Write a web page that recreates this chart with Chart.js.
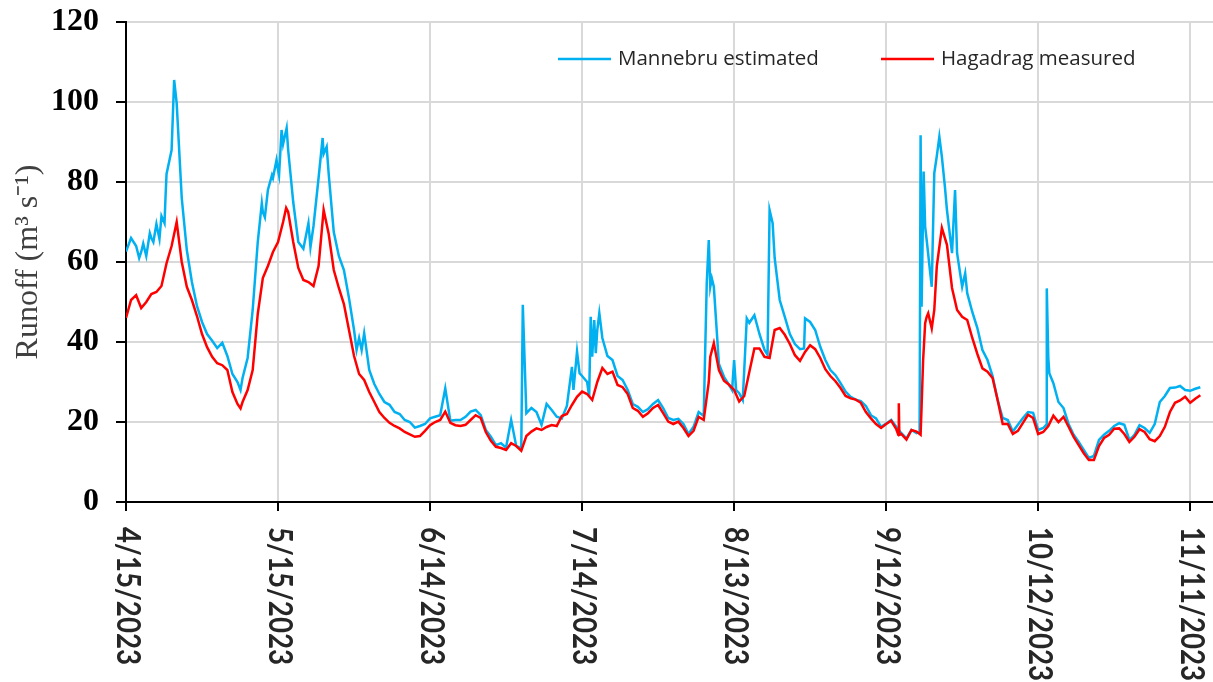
<!DOCTYPE html>
<html>
<head>
<meta charset="utf-8">
<script src="https://cdn.jsdelivr.net/npm/chart.js@4.4.1/dist/chart.umd.min.js"></script>
<style>
html,body{margin:0;padding:0;background:#fff;}
#wrap{width:1213px;height:682px;position:relative;}
</style>
</head>
<body>
<div id="wrap"><canvas id="c" width="1213" height="682"></canvas></div>
<script>
// ---- data (day 0 = 4/15/2023) ----
const seriesNames = ['Mannebru estimated', 'Hagadrag measured'];
const tickDays = [0, 30, 60, 90, 120, 150, 180, 210];
const tickLabels = ['4/15/2023', '5/15/2023', '6/14/2023', '7/14/2023', '8/13/2023', '9/12/2023', '10/12/2023', '11/11/2023'];
const yTickValues = [0, 20, 40, 60, 80, 100, 120];

const mannebruDaily = [
  62.6, 66, 64, 62.5, 61.5, 66, 69.5, 71.5, 82, 88,
  99.7, 76, 63, 55, 49, 45, 42, 40.3, 38.5, 39.8,
  36.5, 32, 30, 31, 36, 48, 65, 72.5, 78, 81,
  83, 89.5, 88, 75, 65, 63.3, 69.7, 69, 81, 87,
  82, 67.5, 61.5, 58, 51, 43, 41, 42.2, 33, 29.5,
  27, 25, 24.3, 22.5, 22, 20.5, 20, 18.6, 19, 19.5,
  20.9, 21.3, 21.7, 28.4, 20.3, 20.5, 20.5, 21.3, 22.6, 23,
  21.7, 18, 16.3, 14.2, 14.7, 13.6, 20.5, 14, 13.4, 22.2,
  23.5, 22.5, 19.3, 24.5, 23, 21.3, 20.9, 24, 33.8, 37.6,
  31.5, 30, 36.3, 43, 41, 36.5, 35.5, 31.5, 30.5, 28,
  24.5, 23.8, 22.5, 23.2, 24.5, 25.5, 23.5, 21, 20.5, 20.8,
  19.5, 17, 18.8, 22.5, 21.5, 65.5, 53.8, 34.5, 31.3, 29.3,
  35.5, 27.2, 33, 44.8, 46.7, 42, 38, 73, 61, 50.5,
  46.3, 42, 39.5, 38.2, 45.9, 45, 43, 38.8, 35.5, 33,
  31.7, 29.7, 27.6, 26.3, 25.6, 25.2, 24, 21.7, 20.9, 18.8,
  19.6, 20.5, 18.8, 17.2, 15.9, 18, 17.2, 48.8, 65.5, 53.8,
  86.5, 86.3, 73, 62.2, 62.2, 53.8, 52.2, 47.5, 43.5, 38,
  35.5, 31.5, 25.5, 21, 20.5, 17.6, 19.3, 21, 22.5, 22.3,
  18, 18.5, 36, 29.7, 25, 23.5, 19.5, 16.8, 15, 13,
  11, 11.5, 15.5, 16.8, 17.8, 19, 19.7, 19.3, 15.5, 16.8,
  19.2, 18.5, 17.3, 19.5, 25, 26.5, 28.5, 28.6, 29, 28,
  27.8, 28.3, 28.7
];
// sub-daily readings (sharp peaks between daily values)
const mannebruExtraDays = [2.6, 3.4, 4.7, 5.4, 6.6, 7.6, 7.8, 9.5, 22.6, 26.8, 27.4, 28.8, 29.7, 30.2, 30.7, 31.7, 36.4, 38.8, 39.6, 45.5, 46.5,
  78.3, 88.3, 89.5, 91.4, 91.7, 92.4, 92.7, 93.4, 114.6, 115.3, 115.6, 119.6, 120.4, 121.7, 122.5, 126.6, 127.6, 133.8,
  156.6, 156.8, 157.4, 157.7, 158.7, 159.5, 160.5, 161.6, 163.6, 164.5, 165.6, 181.6, 181.7, 182.2];
const mannebruExtraValues = [61, 64.6, 67.2, 65, 65.8, 69.7, 76.3, 105.5, 28, 74.7, 71.2, 81.7, 85.5, 81.7, 93, 93.5, 63.7, 91, 88.8, 38, 38,
  49.3, 28, 32.2, 26.3, 46.3, 45.5, 37.2, 47.2, 54.7, 53.8, 55.9, 28, 28, 25.5, 45.9, 36.8, 69.7, 38.4,
  17.5, 91.7, 82.6, 68.8, 57.2, 82.2, 91.3, 78.8, 78, 58, 57.2, 19.3, 53.4, 32.2];

const hagadragDaily = [
  46, 50.5, 51.7, 48.5, 50, 52, 52.5, 54, 59.7, 64,
  70, 60, 53.8, 50.5, 46.5, 42, 38.7, 36.3, 34.7, 34.2,
  33, 27.5, 24.5, 25, 28, 33, 47, 56, 59, 62.5,
  65, 70, 72.5, 65, 58.5, 55.5, 55, 54, 59, 73,
  67, 58, 53.5, 49.5, 43, 36.5, 32, 30.5, 27.5, 25,
  22.5, 21, 19.8, 19, 18.4, 17.5, 16.9, 16.3, 16.5, 17.8,
  19.2, 20, 20.5, 22.6, 19.8, 19.2, 19, 19.3, 20.5, 21.7,
  21, 17.5, 15.3, 13.8, 13.5, 13, 14.7, 14, 12.8, 16.5,
  17.6, 18.4, 18, 18.75, 19.25, 19, 21.5, 22, 24.25, 26.3,
  27.6, 27, 25.5, 30, 33.5, 32, 32.6, 29.25, 28.7, 27,
  23.5, 22.8, 21.3, 22.2, 23.5, 24.25, 22.2, 20.1, 19.5, 20.1,
  18.5, 16.5, 17.8, 21.3, 20.5, 30, 39.7, 33, 30.3, 29.3,
  28, 25.1, 26.5, 32.5, 38.4, 38.4, 36.3, 36, 43, 43.5,
  41.8, 39.5, 36.7, 35.3, 37.5, 39.2, 38.2, 36, 33.2, 31.5,
  30.2, 28.5, 26.5, 25.9, 25.6, 24.8, 22.5, 20.9, 19.5, 18.5,
  19.5, 20.3, 18.2, 17, 15.6, 18, 17.6, 24, 46.3, 43.4,
  59, 68.5, 64.3, 53.5, 48, 46.3, 45.5, 41, 37, 33.4,
  32.6, 31, 25.5, 19.5, 19.5, 17, 17.8, 19.8, 21.8, 21,
  17, 17.5, 19, 21.6, 20, 21.3, 18.8, 16.3, 14.2, 12.2,
  10.5, 10.5, 14, 16, 16.8, 18.3, 18.4, 17, 15, 16.3,
  18.2, 17.5, 15.7, 15.2, 16.5, 18.8, 22.5, 24.8, 25.4, 26.3,
  24.8, 25.8, 26.7
];
const hagadragExtraDays = [22.6, 31.6, 115.3, 152.4, 152.5, 152.6, 156.8, 157.3, 157.7, 158.3, 159.5];
const hagadragExtraValues = [23.4, 73.5, 36.3, 16.8, 24.7, 16.8, 16.8, 35.5, 44.7, 47.2, 48];

function buildSeries(daily, exDays, exVals) {
  const pts = daily.map((v, i) => ({ x: i, y: v }));
  exDays.forEach((d, k) => pts.push({ x: d, y: exVals[k] }));
  pts.sort((a, b) => a.x - b.x);
  return pts;
}

const BLUE = '#00B0F0';
const RED = '#FF0000';

const customText = {
  id: 'customText',
  afterDraw(chart) {
    const ctx = chart.ctx;
    const xs = chart.scales.x;
    ctx.save();
    // rotated date labels (reading top to bottom)
    ctx.font = 'bold 32px Lato';
    ctx.fillStyle = '#262626';
    const k = 138 / ctx.measureText(tickLabels[0]).width;
    tickDays.forEach((d, i) => {
      const x = xs.getPixelForValue(d);
      ctx.save();
      ctx.translate(x + 1, xs.top + 25);
      ctx.rotate(Math.PI / 2);
      ctx.scale(k, 1);
      ctx.textAlign = 'left';
      ctx.textBaseline = 'middle';
      ctx.fillText(tickLabels[i], 0, 0);
      ctx.restore();
    });
    // legend
    const items = [
      { x: 558, color: chart.data.datasets[0].borderColor, text: chart.data.datasets[0].label },
      { x: 881, color: chart.data.datasets[1].borderColor, text: chart.data.datasets[1].label }
    ];
    const ly = 59;
    ctx.font = '20.5px "Open Sans"';
    ctx.textAlign = 'left';
    ctx.textBaseline = 'middle';
    items.forEach(it => {
      ctx.strokeStyle = it.color;
      ctx.lineWidth = 2.5;
      ctx.beginPath();
      ctx.moveTo(it.x, ly);
      ctx.lineTo(it.x + 53, ly);
      ctx.stroke();
      ctx.fillStyle = '#262626';
      ctx.fillText(it.text, it.x + 60, ly);
    });
    ctx.restore();
  }
};

new Chart(document.getElementById('c'), {
  type: 'line',
  data: {
    datasets: [
      {
        label: seriesNames[0],
        data: buildSeries(mannebruDaily, mannebruExtraDays, mannebruExtraValues),
        borderColor: BLUE,
        backgroundColor: BLUE,
        borderWidth: 2.5,
        pointRadius: 0,
        tension: 0,
        order: 1
      },
      {
        label: seriesNames[1],
        data: buildSeries(hagadragDaily, hagadragExtraDays, hagadragExtraValues),
        borderColor: RED,
        backgroundColor: RED,
        borderWidth: 2.5,
        pointRadius: 0,
        tension: 0,
        order: 0
      }
    ]
  },
  options: {
    responsive: false,
    animation: false,
    devicePixelRatio: 1,
    layout: { padding: { top: 22, right: 0, bottom: 0, left: 0 } },
    plugins: {
      legend: { display: false },
      tooltip: { enabled: false }
    },
    scales: {
      x: {
        type: 'linear',
        min: 0,
        max: 214.5,
        afterBuildTicks: s => { s.ticks = tickDays.map(v => ({ value: v })); },
        ticks: { display: false },
        grid: { color: '#d9d9d9', lineWidth: 2, tickColor: '#000', tickWidth: 2, tickLength: 9, drawTicks: true },
        border: { display: true, color: '#000', width: 2 },
        afterFit: s => { s.height = 180; s.paddingLeft = 0; s.paddingRight = 0; }
      },
      y: {
        min: 0,
        max: 120,
        afterBuildTicks: s => { s.ticks = yTickValues.map(v => ({ value: v })); },
        ticks: {
          font: { family: '"Liberation Serif", "Times New Roman", serif', size: 32, weight: 'bold' },
          color: '#000',
          padding: 17
        },
        grid: { color: '#d9d9d9', lineWidth: 2, tickColor: '#000', tickWidth: 2, tickLength: 10, drawTicks: true },
        border: { display: true, color: '#000', width: 2 },
        title: {
          display: true,
          text: 'Runoff (m³ s⁻¹)',
          font: { family: '"Liberation Serif", "Times New Roman", serif', size: 32, weight: 'normal' },
          color: '#404040',
          padding: { top: 9, bottom: 0 }
        },
        afterFit: s => { s.width = 126; s.paddingTop = 0; s.paddingBottom = 0; }
      }
    }
  },
  plugins: [customText]
});
</script>
</body>
</html>
